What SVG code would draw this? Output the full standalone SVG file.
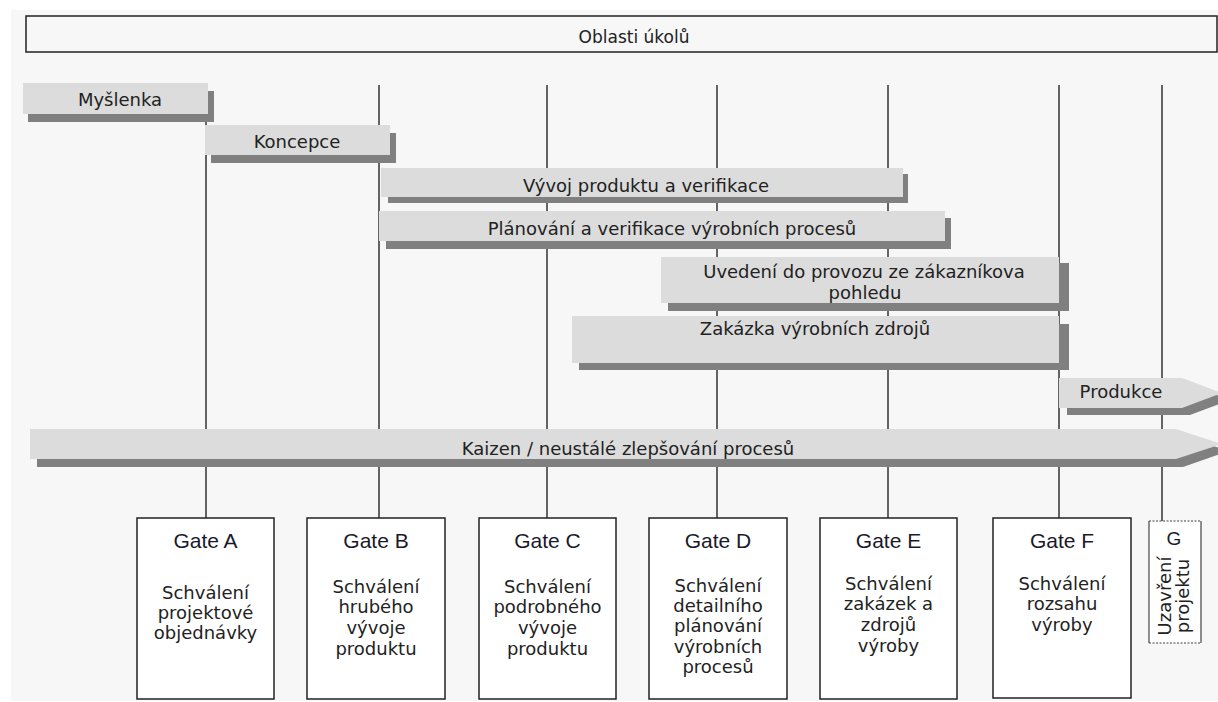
<svg xmlns="http://www.w3.org/2000/svg" width="1218" height="702" viewBox="0 0 1218 702">
  <defs>
    <style>
      .t { font-family: "DejaVu Sans", "Liberation Sans", sans-serif; font-size: 18px; fill: #222; text-anchor: middle; }
      .gt { font-family: "Liberation Sans", Arial, sans-serif; font-size: 21px; fill: #1a1a2a; text-anchor: middle; }
      .bar { fill: #dcdcdc; }
      .sh { fill: #808080; }
      .gate { fill: #ffffff; stroke: #222; stroke-width: 1.5; }
      .vl { stroke: #333; stroke-width: 1.5; fill: none; }
    </style>
  </defs>

  <rect x="0" y="0" width="1218" height="702" fill="#ffffff"/>
  <rect x="11" y="10" width="1207" height="691" fill="#f7f7f7"/>

  <!-- header -->
  <g id="header">
    <rect x="26" y="16" width="1191" height="36" fill="#f7f7f7" stroke="#222" stroke-width="1.5"/>
    <text class="t" x="634" y="43" style="font-size:17px">Oblasti úkolů</text>
  </g>

  <!-- milestone lines -->
  <g id="connectors">
    <line class="vl" x1="206" y1="85" x2="206" y2="518"/>
    <line class="vl" x1="379" y1="85" x2="379" y2="518"/>
    <line class="vl" x1="547" y1="85" x2="547" y2="518"/>
    <line class="vl" x1="717" y1="85" x2="717" y2="518"/>
    <line class="vl" x1="888" y1="85" x2="888" y2="518"/>
    <line class="vl" x1="1059" y1="85" x2="1059" y2="518"/>
    <line class="vl" x1="1162" y1="85" x2="1162" y2="521"/>
  </g>

  <!-- phase bars -->
  <g id="myslenka">
    <rect class="sh" x="28" y="91" width="186" height="31"/>
    <rect class="bar" x="23" y="83" width="185" height="31"/>
    <text class="t" x="120" y="106">Myšlenka</text>
  </g>
  <g id="koncepce">
    <rect class="sh" x="211" y="133" width="185" height="30"/>
    <rect class="bar" x="205" y="125" width="185" height="30"/>
    <text class="t" x="297" y="148">Koncepce</text>
  </g>
  <g id="vyvoj">
    <rect class="sh" x="388" y="174" width="520" height="29"/>
    <rect class="bar" x="381" y="168" width="522" height="29"/>
    <text class="t" x="646" y="192">Vývoj produktu a verifikace</text>
  </g>
  <g id="planovani">
    <rect class="sh" x="386" y="218" width="565" height="31"/>
    <rect class="bar" x="379" y="211" width="566" height="30"/>
    <text class="t" x="672" y="235">Plánování a verifikace výrobních procesů</text>
  </g>
  <g id="uvedeni">
    <rect class="sh" x="668" y="263" width="401" height="48"/>
    <rect class="bar" x="661" y="257" width="398" height="46"/>
    <text class="t" x="864" y="278">Uvedení do provozu ze zákazníkova</text>
    <text class="t" x="865" y="299">pohledu</text>
  </g>
  <g id="zakazka">
    <rect class="sh" x="579" y="324" width="490" height="46"/>
    <rect class="bar" x="572" y="316" width="487" height="47"/>
    <text class="t" x="815" y="335">Zakázka výrobních zdrojů</text>
  </g>
  <g id="produkce">
    <polygon class="sh" points="1067,385 1190,385 1230,400 1190,415 1067,415"/>
    <polygon class="bar" points="1059,378 1182,378 1222,393 1182,408 1059,408"/>
    <text class="t" x="1121" y="398">Produkce</text>
  </g>
  <g id="kaizen">
    <polygon class="sh" points="37,436 1183,436 1229,451 1183,467 37,467"/>
    <polygon class="bar" points="30,429 1176,429 1222,444 1176,459 30,459"/>
    <text class="t" x="628" y="455">Kaizen / neustálé zlepšování procesů</text>
  </g>

  <!-- gates -->
  <g id="gate-a">
    <rect class="gate" x="137" y="518" width="137" height="181"/>
    <text class="gt" x="205.5" y="548">Gate A</text>
    <text class="t" x="205.5" y="599">Schválení</text>
    <text class="t" x="205.5" y="619">projektové</text>
    <text class="t" x="205.5" y="639">objednávky</text>
  </g>
  <g id="gate-b">
    <rect class="gate" x="307" y="518" width="138" height="181"/>
    <text class="gt" x="376" y="548">Gate B</text>
    <text class="t" x="376" y="593">Schválení</text>
    <text class="t" x="376" y="613">hrubého</text>
    <text class="t" x="376" y="634">vývoje</text>
    <text class="t" x="376" y="655">produktu</text>
  </g>
  <g id="gate-c">
    <rect class="gate" x="479" y="518" width="137" height="181"/>
    <text class="gt" x="547.5" y="548">Gate C</text>
    <text class="t" x="547.5" y="593">Schválení</text>
    <text class="t" x="547.5" y="613">podrobného</text>
    <text class="t" x="547.5" y="634">vývoje</text>
    <text class="t" x="547.5" y="655">produktu</text>
  </g>
  <g id="gate-d">
    <rect class="gate" x="649" y="518" width="138" height="181"/>
    <text class="gt" x="718" y="548">Gate D</text>
    <text class="t" x="718" y="592">Schválení</text>
    <text class="t" x="718" y="612">detailního</text>
    <text class="t" x="718" y="632">plánování</text>
    <text class="t" x="718" y="653">výrobních</text>
    <text class="t" x="718" y="673">procesů</text>
  </g>
  <g id="gate-e">
    <rect class="gate" x="820" y="518" width="137" height="181"/>
    <text class="gt" x="888.5" y="548">Gate E</text>
    <text class="t" x="888.5" y="590">Schválení</text>
    <text class="t" x="888.5" y="610">zakázek a</text>
    <text class="t" x="888.5" y="631">zdrojů</text>
    <text class="t" x="888.5" y="652">výroby</text>
  </g>
  <g id="gate-f">
    <rect class="gate" x="993" y="518" width="138" height="180"/>
    <text class="gt" x="1062" y="548">Gate F</text>
    <text class="t" x="1062" y="590">Schválení</text>
    <text class="t" x="1062" y="610">rozsahu</text>
    <text class="t" x="1062" y="631">výroby</text>
  </g>
  <g id="gate-g">
    <rect x="1149" y="521" width="52" height="122" fill="#ffffff"/>
    <line x1="1149" y1="521" x2="1201" y2="521" stroke="#444" stroke-width="1.2" stroke-dasharray="2,1.5"/>
    <line x1="1149" y1="643" x2="1201" y2="643" stroke="#444" stroke-width="1.2" stroke-dasharray="2,1.5"/>
    <line x1="1149" y1="521" x2="1149" y2="643" stroke="#444" stroke-width="1.2"/>
    <line x1="1201" y1="521" x2="1201" y2="643" stroke="#444" stroke-width="1.2"/>
    <text class="gt" x="1174" y="545" style="font-size:19px">G</text>
    <text class="t" transform="translate(1171,596) rotate(-90)">Uzavření</text>
    <text class="t" transform="translate(1189,596) rotate(-90)">projektu</text>
  </g>
</svg>
